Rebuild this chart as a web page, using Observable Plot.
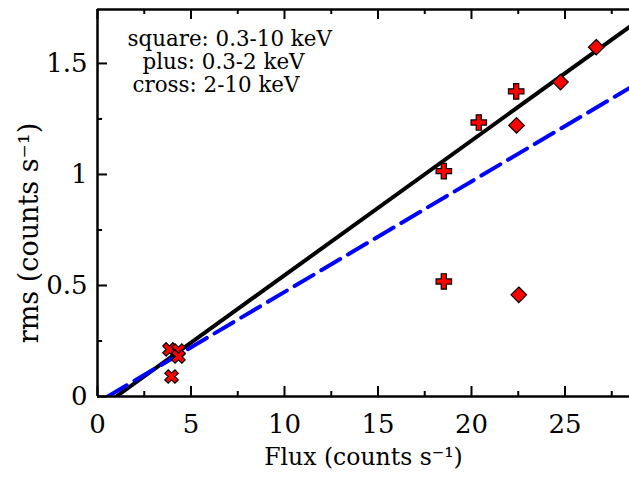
<!DOCTYPE html>
<html><head><meta charset="utf-8">
<script src="https://cdn.jsdelivr.net/npm/d3@7"></script>
<script src="https://cdn.jsdelivr.net/npm/@observablehq/plot@0.6"></script>
<style>body{margin:0;background:#fff;} #chart svg{font-family:"DejaVu Serif",serif;}</style>
</head><body><div id="chart"></div>
<script>
// ---- data ----
const squareFlux = [26.67, 24.76, 22.41, 22.53];
const squareRms  = [1.573, 1.416, 1.221, 0.458];
const plusFlux   = [22.39, 20.39, 18.52, 18.52];
const plusRms    = [1.374, 1.234, 1.015, 0.518];
const crossFlux  = [3.85, 4.33, 4.33, 3.96];
const crossRms   = [0.212, 0.207, 0.180, 0.090];
const fitSolidFlux = [1.0, 28.5];
const fitSolidRms  = [0, 1.668];
const fitDashFlux  = [0.55, 28.5];
const fitDashRms   = [0, 1.392];
const xMajor = [0, 5, 10, 15, 20, 25];
const xMinor = [2.5, 7.5, 12.5, 17.5, 22.5, 27.5];
const yMajor = [0, 0.5, 1, 1.5];
const yMinor = [0.25, 0.75, 1.25];
const yTickLabels = ["0", "0.5", "1", "1.5"];
const xTickLabels = ["0", "5", "10", "15", "20", "25"];
const legendLines = ["square: 0.3-10 keV", "plus: 0.3-2 keV", "cross: 2-10 keV"];
const xLabel = "Flux (counts s\u207B\u00B9)";
const yLabel = "rms (counts s\u207B\u00B9)";

// ---- layout ----
const W = 629, H = 477, mL = 97, mR = 0, mT = 9, mB = 81;
const frameH = H - mT - mB, frameW = W - mL - mR;
const xDomain = [0, 28.45], yDomain = [0, 1.743];
const legendX = [127, 142, 132], legendBase = [45, 68, 91.5];

const toRows = (xs, ys) => xs.map((x, i) => ({flux: x, rms: ys[i]}));
const squares = toRows(squareFlux, squareRms);
const pluses = toRows(plusFlux, plusRms);
const crosses = toRows(crossFlux, crossRms);
const fitSolid = toRows(fitSolidFlux, fitSolidRms);
const fitDash = toRows(fitDashFlux, fitDashRms);

const timesFilled = {
  draw(ctx, size) {
    const r = Math.sqrt(size / 5) / 2, c = Math.SQRT1_2;
    const pts = [[-3*r,-r],[-r,-r],[-r,-3*r],[r,-3*r],[r,-r],[3*r,-r],[3*r,r],[r,r],[r,3*r],[-r,3*r],[-r,r],[-3*r,r]];
    pts.forEach(([x, y], i) => { const X = (x - y) * c, Y = (x + y) * c; i ? ctx.lineTo(X, Y) : ctx.moveTo(X, Y); });
    ctx.closePath();
  }
};

const tickW = 2;
const chart = Plot.plot({
  width: W, height: H,
  marginLeft: mL, marginRight: mR, marginTop: mT, marginBottom: mB,
  style: {fontFamily: "DejaVu Serif, serif", background: "#fff"},
  x: {domain: xDomain, label: null},
  y: {domain: yDomain, label: null},
  marks: [
    Plot.line(fitSolid, {x: "flux", y: "rms", stroke: "black", strokeWidth: 4, clip: true}),
    Plot.line(fitDash, {x: "flux", y: "rms", stroke: "#0000ff", strokeWidth: 4, strokeDasharray: "22,9", clip: true}),
    // axis frame lines
    Plot.ruleX([xDomain[0]], {strokeWidth: 2.5}),
    Plot.ruleY([yDomain[0]], {strokeWidth: 2.5}),
    Plot.ruleY([yDomain[1]], {strokeWidth: 2.5}),
    // inward ticks
    Plot.tickX(xMajor, {x: d => d, insetTop: frameH - 10, strokeWidth: tickW}),
    Plot.tickX(xMinor, {x: d => d, insetTop: frameH - 5, strokeWidth: tickW}),
    Plot.tickX(xMajor, {x: d => d, insetBottom: frameH - 10, strokeWidth: tickW}),
    Plot.tickX(xMinor, {x: d => d, insetBottom: frameH - 5, strokeWidth: tickW}),
    Plot.tickY(yMajor, {y: d => d, insetRight: frameW - 10, strokeWidth: tickW}),
    Plot.tickY(yMinor, {y: d => d, insetRight: frameW - 5, strokeWidth: tickW}),
    // tick labels
    Plot.axisX(xMajor, {tickSize: 0, tickPadding: 18, fontSize: 26, tickFormat: (d, i) => xTickLabels[i], label: null}),
    Plot.axisY(yMajor, {tickSize: 0, tickPadding: 10, fontSize: 26, tickFormat: (d, i) => yTickLabels[i], label: null}),
    // points
    Plot.dot(pluses, {x: "flux", y: "rms", symbol: "cross", r: 6.5, fill: "#ff0000", stroke: "black", strokeWidth: 1.2}),
    Plot.dot(squares, {x: "flux", y: "rms", symbol: "diamond2", r: 7, fill: "#ff0000", stroke: "black", strokeWidth: 1.2}),
    Plot.dot(crosses, {x: "flux", y: "rms", symbol: timesFilled, r: 6, fill: "#ff0000", stroke: "black", strokeWidth: 1.2}),
    // legend text
    ...legendLines.map((t, i) => Plot.text([t], {text: d => d, frameAnchor: "top-left", textAnchor: "start", lineAnchor: "bottom", dx: legendX[i] - mL, dy: legendBase[i] - mT, fontSize: 21.4, fill: "black"})),
    // axis labels
    Plot.text([xLabel], {text: d => d, frameAnchor: "bottom", textAnchor: "middle", lineAnchor: "bottom", dy: 68, fontSize: 23.5, fill: "black"}),
    Plot.text([yLabel], {text: d => d, frameAnchor: "left", textAnchor: "middle", lineAnchor: "bottom", rotate: -90, dx: -60, dy: 30, fontSize: 27, fill: "black"})
  ]
});
document.getElementById("chart").appendChild(chart);
</script>
</body></html>
